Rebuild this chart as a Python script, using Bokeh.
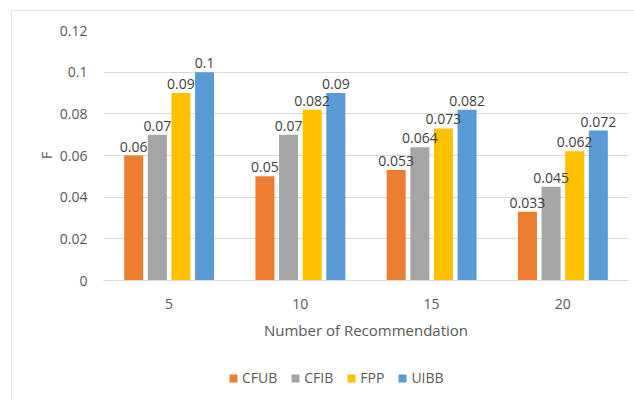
from bokeh.plotting import figure
from bokeh.layouts import column
from bokeh.models import (ColumnDataSource, FixedTicker, CustomJSTickFormatter, Legend,
                          LegendItem, LabelSet, Range1d)
from bokeh.transform import dodge
from bokeh.core.properties import value
from bokeh.embed import file_html
from bokeh.resources import INLINE

categories = ["5", "10", "15", "20"]
series = ["CFUB", "CFIB", "FPP", "UIBB"]
cfub = [0.06, 0.05, 0.053, 0.033]
cfib = [0.07, 0.07, 0.064, 0.045]
fpp = [0.09, 0.082, 0.073, 0.062]
uibb = [0.1, 0.09, 0.082, 0.072]
colors = ["#ED7D31", "#A5A5A5", "#FFC000", "#5B9BD5"]
y_ticks = [0, 0.02, 0.04, 0.06, 0.08, 0.1, 0.12]

FONT = "Open Sans"
TXT = "#595959"

src = ColumnDataSource(dict(cat=categories, CFUB=cfub, CFIB=cfib, FPP=fpp, UIBB=uibb,
                            CFUB_l=[f"{v:g}" for v in cfub], CFIB_l=[f"{v:g}" for v in cfib],
                            FPP_l=[f"{v:g}" for v in fpp], UIBB_l=[f"{v:g}" for v in uibb]))

OX, OY = 12, 11  # offset of the outer chart border

p = figure(x_range=categories, y_range=(0, 0.12), width=634 - OX, height=350 - OY,
           output_backend="svg", toolbar_location=None,
           min_border_left=103 - OX, min_border_right=6, min_border_top=30 - OY,
           min_border_bottom=70)
p.outline_line_color = None

offsets = [-0.27, -0.09, 0.09, 0.27]
for s, c, off in zip(series, colors, offsets):
    p.vbar(x=dodge("cat", off, range=p.x_range), top=s, width=0.145, source=src,
           fill_color=c, line_color=None)
    p.add_layout(LabelSet(x=dodge("cat", off, range=p.x_range), y=s, text=s + "_l", source=src,
                          text_align="center", text_baseline="bottom", y_offset=4,
                          text_font=value(FONT), text_font_size="14px", text_color="#404040"))

p.yaxis.ticker = FixedTicker(ticks=y_ticks)
p.yaxis.formatter = CustomJSTickFormatter(code="return parseFloat(tick.toFixed(3)).toString();")
p.ygrid.ticker = FixedTicker(ticks=y_ticks)
p.ygrid.grid_line_color = "#D9D9D9"
p.xgrid.grid_line_color = None

for ax in (p.xaxis, p.yaxis):
    ax.major_tick_line_color = None
    ax.minor_tick_line_color = None
    ax.major_label_text_font = FONT
    ax.major_label_text_font_size = "14px"
    ax.major_label_text_color = TXT
    ax.axis_label_text_font = FONT
    ax.axis_label_text_font_style = "normal"
    ax.axis_label_text_color = TXT

p.yaxis.axis_line_color = None
p.xaxis.axis_line_color = "#D9D9D9"
p.yaxis.major_label_standoff = 10
p.xaxis.major_label_standoff = 12
p.yaxis.axis_label = "F"
p.yaxis.axis_label_text_font_size = "14px"
p.yaxis.axis_label_standoff = 1
p.xaxis.axis_label = "Number of Recommendation"
p.xaxis.axis_label_text_font_size = "15px"
p.xaxis.axis_label_standoff = 8

# legend strip (bars fall below its range, only the legend shows)
lg = figure(width=634 - OX, height=50, x_range=categories, y_range=Range1d(1, 2),
            output_backend="svg", toolbar_location=None,
            min_border_left=103 - OX, min_border_right=6, min_border_top=0, min_border_bottom=0)
lg.axis.visible = False
lg.grid.visible = False
lg.outline_line_color = None
items = []
for s, c in zip(series, colors):
    r = lg.vbar(x="cat", top=s, width=0.1, source=src, fill_color=c, line_color=None)
    items.append(LegendItem(label=s, renderers=[r]))
legend = Legend(items=items, orientation="horizontal", location=(125, 13),
                label_text_font=FONT, label_text_font_size="14px", label_text_color=TXT,
                glyph_width=10, glyph_height=10, spacing=13, label_standoff=4,
                border_line_color=None, background_fill_alpha=0, margin=0, padding=0)
lg.add_layout(legend)

layout = column(p, lg, spacing=0,
                styles={"margin-left": "11px", "margin-top": "10px",
                        "border-left": "1px solid #E3E3E3", "border-top": "1px solid #E3E3E3"})

open("out.html", "w").write(file_html(layout, INLINE))
